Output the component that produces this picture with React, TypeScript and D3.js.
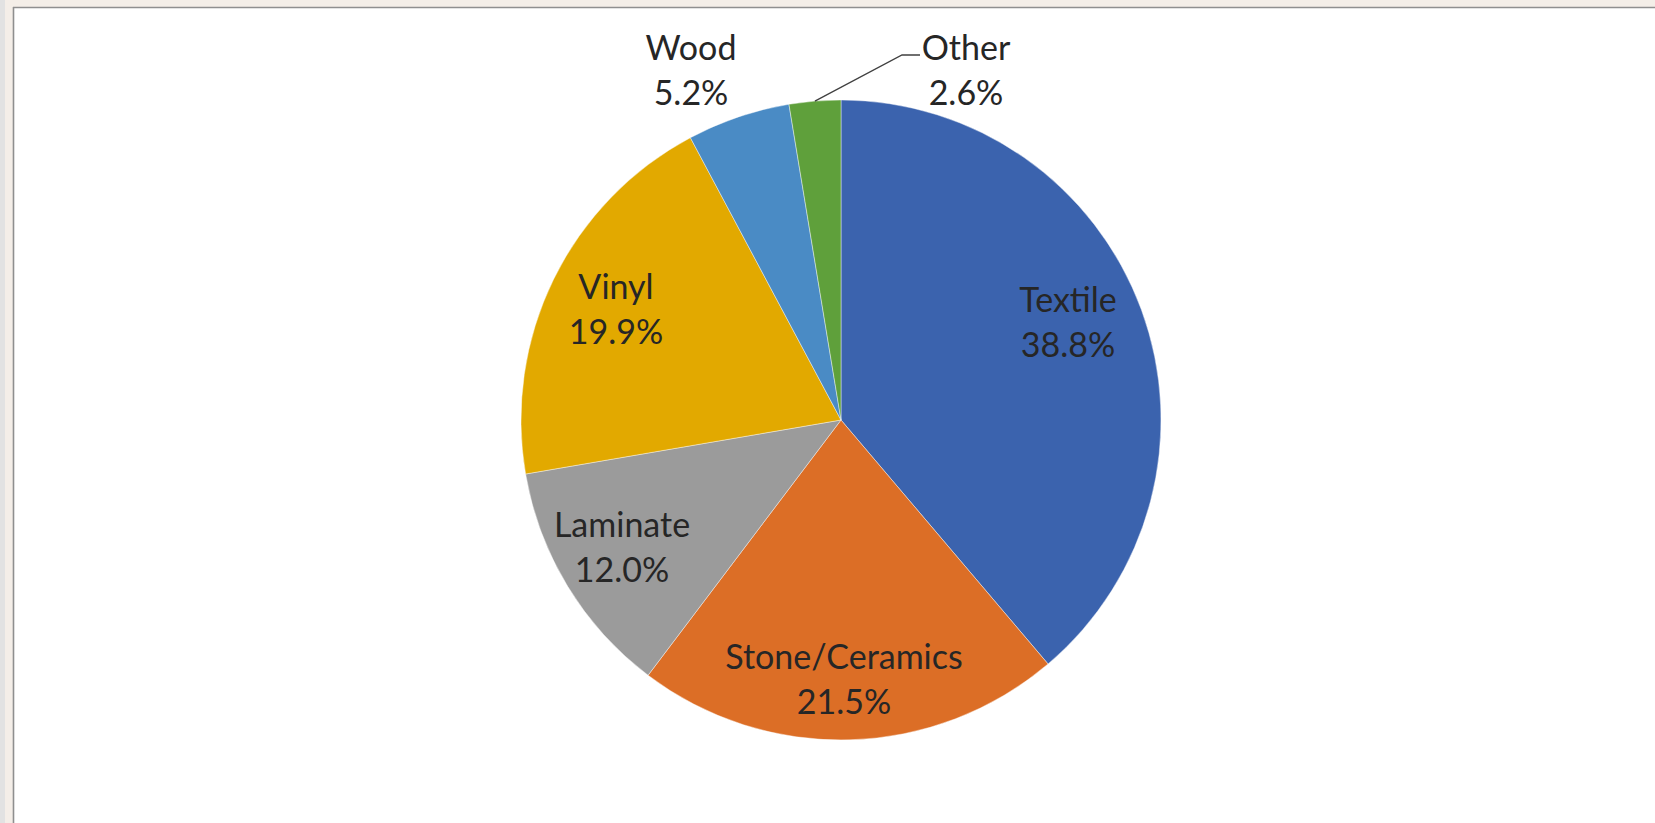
import React from "react";
import * as d3 from "d3";

const categories = ["Textile", "Stone/Ceramics", "Laminate", "Vinyl", "Wood", "Other"];
const values = [38.8, 21.5, 12.0, 19.9, 5.2, 2.6];
const colors = ["#3b63ae", "#dc6e26", "#9b9b9b", "#e2a900", "#4a8bc5", "#5fa03b"];
// label offsets relative to pie centre: [dx, dy] for the label block centre
const labelSpots: [number, number][] = [
  [227, -98],
  [3, 259],
  [-219, 127],
  [-225, -111],
  [-150, -350],
  [125, -350],
];

const W = 1655;
const H = 823;
const CX = 841;
const CY = 420;
const R = 320;
const FONT = 34;
const LINE = 45;

export default function App() {
  const pie = d3.pie<number>().sort(null).value((d) => d)(values);
  const arc = d3.arc<d3.PieArcDatum<number>>().innerRadius(0).outerRadius(R);

  const otherIdx = 5;
  const o = pie[otherIdx];
  const mid = (o.startAngle + o.endAngle) / 2;
  const sx = CX + R * Math.sin(mid);
  const sy = CY - R * Math.cos(mid);
  const ox = CX + labelSpots[otherIdx][0];
  const oy = CY + labelSpots[otherIdx][1];

  return (
    <svg
      width={W}
      height={H}
      style={{ position: "absolute", left: 0, top: 0 }}
      xmlns="http://www.w3.org/2000/svg"
    >
      <rect x={0} y={0} width={W} height={H} fill="#f4eee8" />
      <rect x={0} y={0} width={5} height={H} fill="#e2e2e2" />
      <rect x={13} y={7} width={W - 13} height={H - 7} fill="#ffffff" />
      <line x1={13.5} y1={7} x2={13.5} y2={H} stroke="#8f8f8f" strokeWidth={1.6} />
      <line x1={13} y1={7.5} x2={W} y2={7.5} stroke="#8f8f8f" strokeWidth={1.6} />
      <g transform={`translate(${CX},${CY})`}>
        {pie.map((p, i) => (
          <path key={categories[i]} d={arc(p) || ""} fill={colors[i]} stroke="#ffffff" strokeWidth={0.7} strokeOpacity={0.6} />
        ))}
      </g>
      <polyline
        points={`${sx},${sy} ${ox - 64},${oy - 15} ${ox - 46},${oy - 15}`}
        fill="none"
        stroke="#404040"
        strokeWidth={1.3}
      />
      {categories.map((c, i) => {
        const x = CX + labelSpots[i][0];
        const y = CY + labelSpots[i][1];
        return (
          <text
            key={c}
            x={x}
            y={y}
            textAnchor="middle"
            fontFamily="Lato, 'Open Sans', sans-serif"
            fontSize={FONT}
            fill="#262626"
          >
            <tspan x={x} dy={-LINE / 2 + FONT * 0.36}>{c}</tspan>
            <tspan x={x} dy={LINE}>{values[i].toFixed(1) + "%"}</tspan>
          </text>
        );
      })}
    </svg>
  );
}
